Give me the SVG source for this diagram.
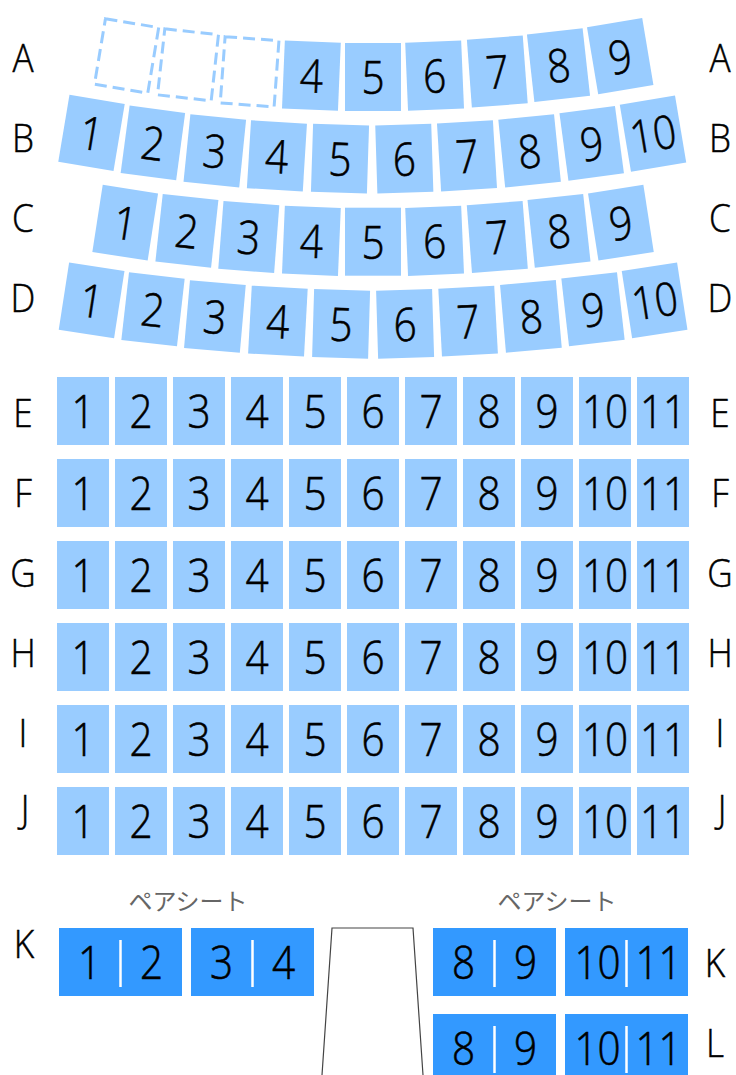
<svg xmlns="http://www.w3.org/2000/svg" width="736" height="1075" viewBox="0 0 736 1075">
<style>
.s{fill:#99ccff}.p{fill:#3399ff}
.d{fill:none;stroke:#99ccff;stroke-width:3;stroke-dasharray:12 6}
text{font-family:"Open Sans","Noto Sans CJK JP",sans-serif;fill:#000;font-weight:300}
.n{font-size:46px;text-anchor:middle;transform:scale(.88,1);stroke:#000;stroke-width:.6}
.l{font-size:39px;text-anchor:middle;stroke:#000;stroke-width:.5}
.t{font-family:"Noto Sans CJK JP",sans-serif;font-size:24px;font-weight:400;fill:#666;text-anchor:middle}
.v{stroke:#fff;stroke-width:2.5}
.b{fill:none;stroke:#444;stroke-width:1.2}
</style>
<defs>
<rect id="r" class="s" x="-28" y="-34" width="56" height="68"/>
<rect id="g" class="s" x="-26" y="-34" width="52" height="68"/>
<rect id="q" class="p" x="-61.5" y="-34" width="123" height="68"/>
<rect id="e" class="d" x="-27" y="-33.2" width="54" height="66.4"/>
</defs>
<g id="row-A">
<g id="A1" transform="translate(126.6 55.9) rotate(9.5)"><use href="#e"/></g>
<g id="A2" transform="translate(188 64.8) rotate(6.3)"><use href="#e"/></g>
<g id="A3" transform="translate(249.6 71.8) rotate(4.2)"><use href="#e"/></g>
<g id="A4" transform="translate(311.4 75.6) rotate(2.4)"><use href="#r"/><text class="n" y="17">4</text></g>
<g id="A5" transform="translate(373 77)"><use href="#r"/><text class="n" y="17">5</text></g>
<g id="A6" transform="translate(434.6 75.6) rotate(-2.4)"><use href="#r"/><text class="n" y="17">6</text></g>
<g id="A7" transform="translate(497.3 71.5) rotate(-4.2)"><use href="#r"/><text class="n" y="17">7</text></g>
<g id="A8" transform="translate(558.5 65.1) rotate(-6.3)"><use href="#r"/><text class="n" y="17">8</text></g>
<g id="A9" transform="translate(620.2 56.2) rotate(-9.5)"><use href="#r"/><text class="n" y="17">9</text></g>
</g>
<g id="row-B">
<g id="B1" transform="translate(91.5 132.9) rotate(9.5)"><use href="#r"/><text class="n" y="17">1</text></g>
<g id="B2" transform="translate(152.9 142.9) rotate(7.6)"><use href="#r"/><text class="n" y="17">2</text></g>
<g id="B3" transform="translate(214.8 150.8) rotate(5.8)"><use href="#r"/><text class="n" y="17">3</text></g>
<g id="B4" transform="translate(276.9 155.9) rotate(3.5)"><use href="#r"/><text class="n" y="17">4</text></g>
<g id="B5" transform="translate(340 158.7) rotate(1.8)"><use href="#r"/><text class="n" y="17">5</text></g>
<g id="B6" transform="translate(404.3 158.7) rotate(-1.8)"><use href="#r"/><text class="n" y="17">6</text></g>
<g id="B7" transform="translate(467 155.8) rotate(-3.5)"><use href="#r"/><text class="n" y="17">7</text></g>
<g id="B8" transform="translate(529.6 150.8) rotate(-5.8)"><use href="#r"/><text class="n" y="17">8</text></g>
<g id="B9" transform="translate(591.7 143.3) rotate(-7.6)"><use href="#r"/><text class="n" y="17">9</text></g>
<g id="B10" transform="translate(653 133.7) rotate(-9.5)"><use href="#r"/><text class="n" y="17">10</text></g>
</g>
<g id="row-C">
<g id="C1" transform="translate(125.2 222.7) rotate(8.8)"><use href="#r"/><text class="n" y="17">1</text></g>
<g id="C2" transform="translate(186.9 230.8) rotate(6.2)"><use href="#r"/><text class="n" y="17">2</text></g>
<g id="C3" transform="translate(248.8 237) rotate(4.4)"><use href="#r"/><text class="n" y="17">3</text></g>
<g id="C4" transform="translate(311.4 240.8) rotate(2.4)"><use href="#r"/><text class="n" y="17">4</text></g>
<g id="C5" transform="translate(373 241.7)"><use href="#r"/><text class="n" y="17">5</text></g>
<g id="C6" transform="translate(434.6 240.8) rotate(-2.4)"><use href="#r"/><text class="n" y="17">6</text></g>
<g id="C7" transform="translate(497.3 237) rotate(-4.4)"><use href="#r"/><text class="n" y="17">7</text></g>
<g id="C8" transform="translate(559 230.8) rotate(-6.2)"><use href="#r"/><text class="n" y="17">8</text></g>
<g id="C9" transform="translate(620.9 222.7) rotate(-8.8)"><use href="#r"/><text class="n" y="17">9</text></g>
</g>
<g id="row-D">
<g id="D1" transform="translate(91.6 300.4) rotate(8.8)"><use href="#r"/><text class="n" y="17">1</text></g>
<g id="D2" transform="translate(153 309.3) rotate(6.5)"><use href="#r"/><text class="n" y="17">2</text></g>
<g id="D3" transform="translate(214.9 316.5) rotate(5)"><use href="#r"/><text class="n" y="17">3</text></g>
<g id="D4" transform="translate(277.9 321.1) rotate(3.1)"><use href="#r"/><text class="n" y="17">4</text></g>
<g id="D5" transform="translate(341.1 323.9) rotate(1.7)"><use href="#r"/><text class="n" y="17">5</text></g>
<g id="D6" transform="translate(405.1 323.9) rotate(-1.7)"><use href="#r"/><text class="n" y="17">6</text></g>
<g id="D7" transform="translate(468.1 321.1) rotate(-3.1)"><use href="#r"/><text class="n" y="17">7</text></g>
<g id="D8" transform="translate(530.9 316.4) rotate(-5)"><use href="#r"/><text class="n" y="17">8</text></g>
<g id="D9" transform="translate(593 309.2) rotate(-6.5)"><use href="#r"/><text class="n" y="17">9</text></g>
<g id="D10" transform="translate(654.6 300.4) rotate(-8.8)"><use href="#r"/><text class="n" y="17">10</text></g>
</g>
<g id="row-E"><g id="E1" transform="translate(83 411)"><use href="#g"/><text class="n" y="17">1</text></g><g id="E2" transform="translate(141 411)"><use href="#g"/><text class="n" y="17">2</text></g><g id="E3" transform="translate(199 411)"><use href="#g"/><text class="n" y="17">3</text></g><g id="E4" transform="translate(257 411)"><use href="#g"/><text class="n" y="17">4</text></g><g id="E5" transform="translate(315 411)"><use href="#g"/><text class="n" y="17">5</text></g><g id="E6" transform="translate(373 411)"><use href="#g"/><text class="n" y="17">6</text></g><g id="E7" transform="translate(431 411)"><use href="#g"/><text class="n" y="17">7</text></g><g id="E8" transform="translate(489 411)"><use href="#g"/><text class="n" y="17">8</text></g><g id="E9" transform="translate(547 411)"><use href="#g"/><text class="n" y="17">9</text></g><g id="E10" transform="translate(605 411)"><use href="#g"/><text class="n" y="17">10</text></g><g id="E11" transform="translate(663 411)"><use href="#g"/><text class="n" y="17">11</text></g></g>
<g id="row-F"><g id="F1" transform="translate(83 493)"><use href="#g"/><text class="n" y="17">1</text></g><g id="F2" transform="translate(141 493)"><use href="#g"/><text class="n" y="17">2</text></g><g id="F3" transform="translate(199 493)"><use href="#g"/><text class="n" y="17">3</text></g><g id="F4" transform="translate(257 493)"><use href="#g"/><text class="n" y="17">4</text></g><g id="F5" transform="translate(315 493)"><use href="#g"/><text class="n" y="17">5</text></g><g id="F6" transform="translate(373 493)"><use href="#g"/><text class="n" y="17">6</text></g><g id="F7" transform="translate(431 493)"><use href="#g"/><text class="n" y="17">7</text></g><g id="F8" transform="translate(489 493)"><use href="#g"/><text class="n" y="17">8</text></g><g id="F9" transform="translate(547 493)"><use href="#g"/><text class="n" y="17">9</text></g><g id="F10" transform="translate(605 493)"><use href="#g"/><text class="n" y="17">10</text></g><g id="F11" transform="translate(663 493)"><use href="#g"/><text class="n" y="17">11</text></g></g>
<g id="row-G"><g id="G1" transform="translate(83 575)"><use href="#g"/><text class="n" y="17">1</text></g><g id="G2" transform="translate(141 575)"><use href="#g"/><text class="n" y="17">2</text></g><g id="G3" transform="translate(199 575)"><use href="#g"/><text class="n" y="17">3</text></g><g id="G4" transform="translate(257 575)"><use href="#g"/><text class="n" y="17">4</text></g><g id="G5" transform="translate(315 575)"><use href="#g"/><text class="n" y="17">5</text></g><g id="G6" transform="translate(373 575)"><use href="#g"/><text class="n" y="17">6</text></g><g id="G7" transform="translate(431 575)"><use href="#g"/><text class="n" y="17">7</text></g><g id="G8" transform="translate(489 575)"><use href="#g"/><text class="n" y="17">8</text></g><g id="G9" transform="translate(547 575)"><use href="#g"/><text class="n" y="17">9</text></g><g id="G10" transform="translate(605 575)"><use href="#g"/><text class="n" y="17">10</text></g><g id="G11" transform="translate(663 575)"><use href="#g"/><text class="n" y="17">11</text></g></g>
<g id="row-H"><g id="H1" transform="translate(83 657)"><use href="#g"/><text class="n" y="17">1</text></g><g id="H2" transform="translate(141 657)"><use href="#g"/><text class="n" y="17">2</text></g><g id="H3" transform="translate(199 657)"><use href="#g"/><text class="n" y="17">3</text></g><g id="H4" transform="translate(257 657)"><use href="#g"/><text class="n" y="17">4</text></g><g id="H5" transform="translate(315 657)"><use href="#g"/><text class="n" y="17">5</text></g><g id="H6" transform="translate(373 657)"><use href="#g"/><text class="n" y="17">6</text></g><g id="H7" transform="translate(431 657)"><use href="#g"/><text class="n" y="17">7</text></g><g id="H8" transform="translate(489 657)"><use href="#g"/><text class="n" y="17">8</text></g><g id="H9" transform="translate(547 657)"><use href="#g"/><text class="n" y="17">9</text></g><g id="H10" transform="translate(605 657)"><use href="#g"/><text class="n" y="17">10</text></g><g id="H11" transform="translate(663 657)"><use href="#g"/><text class="n" y="17">11</text></g></g>
<g id="row-I"><g id="I1" transform="translate(83 739)"><use href="#g"/><text class="n" y="17">1</text></g><g id="I2" transform="translate(141 739)"><use href="#g"/><text class="n" y="17">2</text></g><g id="I3" transform="translate(199 739)"><use href="#g"/><text class="n" y="17">3</text></g><g id="I4" transform="translate(257 739)"><use href="#g"/><text class="n" y="17">4</text></g><g id="I5" transform="translate(315 739)"><use href="#g"/><text class="n" y="17">5</text></g><g id="I6" transform="translate(373 739)"><use href="#g"/><text class="n" y="17">6</text></g><g id="I7" transform="translate(431 739)"><use href="#g"/><text class="n" y="17">7</text></g><g id="I8" transform="translate(489 739)"><use href="#g"/><text class="n" y="17">8</text></g><g id="I9" transform="translate(547 739)"><use href="#g"/><text class="n" y="17">9</text></g><g id="I10" transform="translate(605 739)"><use href="#g"/><text class="n" y="17">10</text></g><g id="I11" transform="translate(663 739)"><use href="#g"/><text class="n" y="17">11</text></g></g>
<g id="row-J"><g id="J1" transform="translate(83 821)"><use href="#g"/><text class="n" y="17">1</text></g><g id="J2" transform="translate(141 821)"><use href="#g"/><text class="n" y="17">2</text></g><g id="J3" transform="translate(199 821)"><use href="#g"/><text class="n" y="17">3</text></g><g id="J4" transform="translate(257 821)"><use href="#g"/><text class="n" y="17">4</text></g><g id="J5" transform="translate(315 821)"><use href="#g"/><text class="n" y="17">5</text></g><g id="J6" transform="translate(373 821)"><use href="#g"/><text class="n" y="17">6</text></g><g id="J7" transform="translate(431 821)"><use href="#g"/><text class="n" y="17">7</text></g><g id="J8" transform="translate(489 821)"><use href="#g"/><text class="n" y="17">8</text></g><g id="J9" transform="translate(547 821)"><use href="#g"/><text class="n" y="17">9</text></g><g id="J10" transform="translate(605 821)"><use href="#g"/><text class="n" y="17">10</text></g><g id="J11" transform="translate(663 821)"><use href="#g"/><text class="n" y="17">11</text></g></g>
<g id="pairs">
<g id="K1-2" transform="translate(120.5 962)"><use href="#q"/><line class="v" x1="0" x2="0" y1="-22" y2="25"/><g transform="translate(-31 0)"><text class="n" y="17">1</text></g><g transform="translate(31 0)"><text class="n" y="17">2</text></g></g>
<g id="K3-4" transform="translate(252.5 962)"><use href="#q"/><line class="v" x1="0" x2="0" y1="-22" y2="25"/><g transform="translate(-31 0)"><text class="n" y="17">3</text></g><g transform="translate(31 0)"><text class="n" y="17">4</text></g></g>
<g id="K8-9" transform="translate(494.5 962)"><use href="#q"/><line class="v" x1="0" x2="0" y1="-22" y2="25"/><g transform="translate(-31 0)"><text class="n" y="17">8</text></g><g transform="translate(31 0)"><text class="n" y="17">9</text></g></g>
<g id="K10-11" transform="translate(626.5 962)"><use href="#q"/><line class="v" x1="0" x2="0" y1="-22" y2="25"/><g transform="translate(-29 0)"><text class="n" y="17">10</text></g><g transform="translate(32 0)"><text class="n" y="17">11</text></g></g>
<g id="L8-9" transform="translate(494.5 1048)"><use href="#q"/><line class="v" x1="0" x2="0" y1="-22" y2="25"/><g transform="translate(-31 0)"><text class="n" y="17">8</text></g><g transform="translate(31 0)"><text class="n" y="17">9</text></g></g>
<g id="L10-11" transform="translate(626.5 1048)"><use href="#q"/><line class="v" x1="0" x2="0" y1="-22" y2="25"/><g transform="translate(-29 0)"><text class="n" y="17">10</text></g><g transform="translate(32 0)"><text class="n" y="17">11</text></g></g>
</g>
<g id="stage"><path class="b" d="M322 1075L332 928H413L423 1075"/></g>
<g id="captions"><text class="t" x="188" y="910">ペアシート</text><text class="t" x="557" y="910">ペアシート</text></g>
<g id="row-labels">
<text class="l" transform="translate(23 72) scale(.9 1)">A</text>
<text class="l" transform="translate(23 152) scale(.9 1)">B</text>
<text class="l" transform="translate(23 232) scale(.9 1)">C</text>
<text class="l" transform="translate(23 312) scale(.9 1)">D</text>
<text class="l" transform="translate(23 427) scale(.9 1)">E</text>
<text class="l" transform="translate(23 507) scale(.9 1)">F</text>
<text class="l" transform="translate(23 587) scale(.9 1)">G</text>
<text class="l" transform="translate(23 667) scale(.9 1)">H</text>
<text class="l" transform="translate(23 747) scale(.9 1)">I</text>
<text class="l" transform="translate(25 823) scale(.9 1)">J</text>
<text class="l" transform="translate(24 958) scale(.9 1)">K</text>
<text class="l" transform="translate(720 72) scale(.9 1)">A</text>
<text class="l" transform="translate(720 152) scale(.9 1)">B</text>
<text class="l" transform="translate(720 232) scale(.9 1)">C</text>
<text class="l" transform="translate(720 312) scale(.9 1)">D</text>
<text class="l" transform="translate(720 427) scale(.9 1)">E</text>
<text class="l" transform="translate(720 507) scale(.9 1)">F</text>
<text class="l" transform="translate(720 587) scale(.9 1)">G</text>
<text class="l" transform="translate(720 667) scale(.9 1)">H</text>
<text class="l" transform="translate(720 747) scale(.9 1)">I</text>
<text class="l" transform="translate(722 823) scale(.9 1)">J</text>
<text class="l" transform="translate(715 977) scale(.9 1)">K</text>
<text class="l" transform="translate(715 1057) scale(.9 1)">L</text>
</g>
</svg>
